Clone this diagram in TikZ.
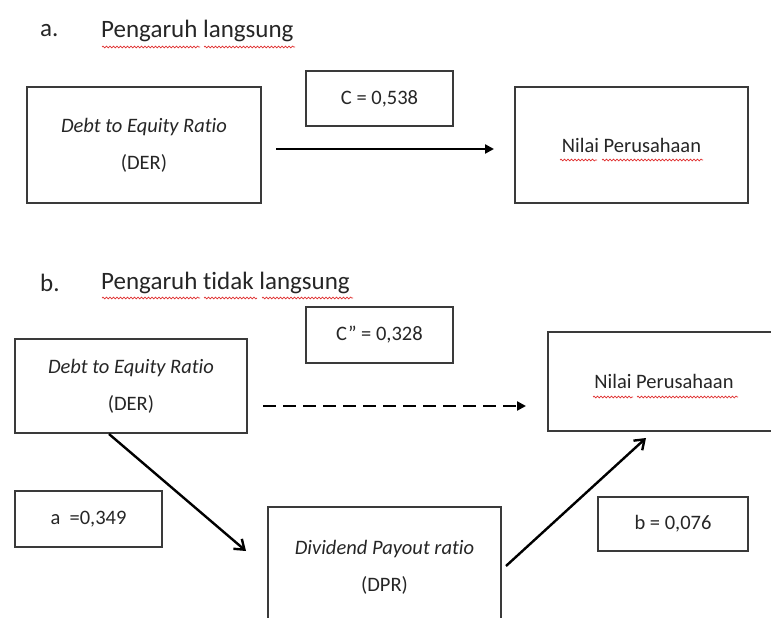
\documentclass[tikz,border=0pt]{standalone}
\usepackage{fontspec}
\setmainfont{Carlito}[Ligatures=NoCommon]
\usetikzlibrary{arrows.meta,calc,decorations.pathmorphing}
\definecolor{boxc}{HTML}{3A3A3A}
\definecolor{txt}{HTML}{262626}
\definecolor{squigc}{HTML}{E03030}
\begin{document}
\begin{tikzpicture}[x=1pt,y=-1pt,
  box/.style={draw=boxc,line width=2pt,rectangle,inner sep=0pt,align=center,text=txt,
    font=\fontsize{20.5}{37}\selectfont},
  ttl/.style={font=\fontsize{25}{30}\selectfont,text=txt,inner sep=0pt,anchor=west},
  conn/.style={line width=2.4pt,draw=black},
  squig/.style={draw=squigc,line width=0.7pt,decorate,decoration={snake,amplitude=0.9pt,segment length=3.5pt}}
]
\clip (0,0) rectangle (771,618);
\fill[white] (0,0) rectangle (771,618);

% ---- a. direct effect
\node[ttl] (la) at (40,31) {a.};
\node[ttl] (ta) at (101,31) {Pengaruh langsung};
\node[box,minimum width=234pt,minimum height=116pt] (DERa) at (144,145) {\textit{Debt to Equity Ratio}\\(DER)};
\node[box,minimum width=147pt,minimum height=55pt] (Ca) at (379.5,98.5) {C = 0,538};
\node[box,minimum width=233pt,minimum height=116pt] (Nilaia) at (631.5,145) {Nilai Perusahaan};
\draw[conn,-{Triangle[length=9pt,width=9pt]}] ([xshift=14pt,yshift=-4pt]DERa.east) -- ([xshift=-20pt,yshift=-4pt]Nilaia.west);

% ---- b. indirect effect
\node[ttl] (lb) at (40,283) {b.};
\node[ttl] (tb) at (101,283) {Pengaruh tidak langsung};
\node[box,minimum width=232pt,minimum height=94pt] (DERb) at (131,386) {\textit{Debt to Equity Ratio}\\(DER)};
\node[box,minimum width=147pt,minimum height=56pt] (Cb) at (379.5,335) {C” = 0,328};
\node[box,minimum width=232pt,minimum height=99pt] (Nilaib) at (664,381.5) {Nilai Perusahaan};
\node[box,minimum width=147pt,minimum height=56pt] (A) at (88.5,519) {a~ =0,349};
\node[box,minimum width=233pt,minimum height=120pt] (DPR) at (384.5,567) {\textit{Dividend Payout ratio}\\(DPR)};
\node[box,minimum width=150pt,minimum height=54pt] (B) at (673,524) {b = 0,076};

\draw[conn,dash pattern=on 13pt off 7pt,-{Triangle[length=9pt,width=9pt]}] ([xshift=15pt,yshift=-20pt]DERb.east) -- ([xshift=-21pt,yshift=-24.5pt]Nilaib.west);
\draw[conn,-{Straight Barb[length=9pt,width=13pt]}] ([xshift=95pt]DERb.south west) -- ([xshift=-21pt,yshift=-45pt]DPR.north west);
\draw[conn,-{Straight Barb[length=9pt,width=13pt]}] ([xshift=4pt,yshift=-60pt]DPR.north east) -- ([xshift=99pt,yshift=-6pt]Nilaib.south west);

% ---- spell-check underlines
\draw[squig] (102,47) -- (200,47);
\draw[squig] (204,47) -- (295,47);
\draw[squig] (102,298) -- (200,298);
\draw[squig] (204,298) -- (257,298);
\draw[squig] (262,298) -- (353,298);
\draw[squig] (560,160) -- (597,160);
\draw[squig] (602,160) -- (703,160);
\draw[squig] (593,397) -- (633,397);
\draw[squig] (637,397) -- (738,397);
\end{tikzpicture}
\end{document}
